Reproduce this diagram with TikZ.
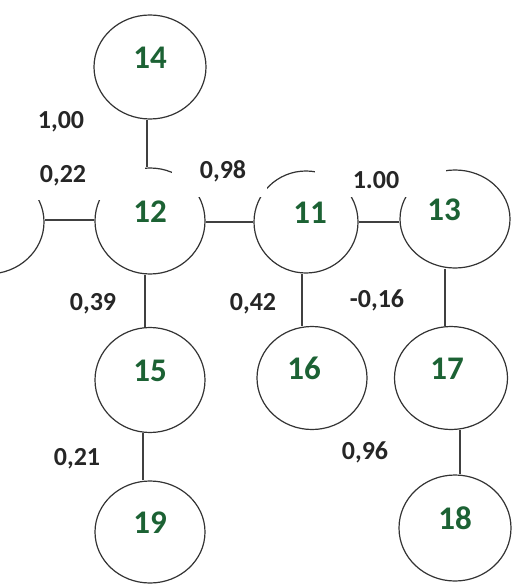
\documentclass[tikz,border=0pt]{standalone}
\usepackage{fontspec}
\setmainfont{Carlito}
\usetikzlibrary{shapes.geometric}
\definecolor{numgreen}{RGB}{28,98,52}
\begin{document}
\begin{tikzpicture}[x=1pt,y=-1pt,
  vert/.style={ellipse, draw=black!80, line width=1.2pt, minimum width=112pt, minimum height=104pt, inner sep=0pt,
    font=\fontsize{33}{33}\selectfont\bfseries, text=numgreen, text height=21pt, text depth=18pt},
  wlab/.style={font=\fontsize{26}{26}\selectfont\bfseries, text=black!85, inner sep=0pt},
  link/.style={line width=1.6pt, draw=black!75},
  mask/.style={fill=white, draw=none}]
\useasboundingbox (0,0) rectangle (512,585);
% vertices
\node[vert] (n14) at (150,67) {14};
\node[vert, minimum width=110pt, minimum height=106pt] (n12) at (150,221) {12};
\node[vert] (nL) at (-12,222) {};
\node[vert, minimum width=104pt, minimum height=102pt] (n11) at (306,222) {11\hspace*{-8pt}};
\node[vert, minimum width=110pt, minimum height=98pt] (n13) at (455,219) {\hspace*{-22pt}13};
\node[vert, minimum width=110pt, minimum height=105pt] (n15) at (150,380) {15};
\node[vert, minimum width=110pt, minimum height=103pt] (n16) at (312,378) {\hspace*{-16pt}16};
\node[vert, minimum width=113pt, minimum height=103pt] (n17) at (451,378) {\hspace*{-8pt}17};
\node[vert, minimum height=106pt] (n18) at (455,528) {18};
\node[vert, minimum width=110pt, minimum height=102pt] (n19) at (150,532) {19};
% connectors
\draw[link] ([xshift=-3pt]n14.south) -- ([xshift=-3pt]n14.south |- n12.north);
\draw[link] ([yshift=1pt]n12.west) -- ([yshift=1pt]n12.west -| nL.east);
\draw[link] (n11.west) -- (n11.west -| n12.east);
\draw[link] (n11.east) -- (n11.east -| n13.west);
\draw[link] ([xshift=-5pt]n12.south) -- ([xshift=-5pt]n12.south |- n15.north);
\draw[link] ([xshift=-7pt]n15.south) -- ([xshift=-7pt]n15.south |- n19.north);
\draw[link] ([xshift=-4pt]n11.south) -- ([xshift=-4pt]n11.south |- n16.north);
\draw[link] ([xshift=-10pt]n13.south) -- ([xshift=-10pt]n13.south |- n17.north);
\draw[link] ([xshift=9pt]n17.south) -- ([xshift=9pt]n17.south |- n18.north);
% white label backgrounds
\fill[mask] (0,148) rectangle (145,200);
\fill[mask] (172,148) rectangle (267,197);
\fill[mask] (315,148) rectangle (446,197);
% weights
\node[wlab] (w1) at (61,122) {1,00};
\node[wlab] (w2) at (63,176) {0,22};
\node[wlab] (w3) at (223,171) {0,98};
\node[wlab] (w4) at (376,180) {1.00};
\node[wlab] (w5) at (93,304) {0,39};
\node[wlab] (w6) at (253,304) {0,42};
\node[wlab] (w7) at (377,300) {-0,16};
\node[wlab] (w8) at (77,459) {0,21};
\node[wlab] (w9) at (365,452) {0,96};
\end{tikzpicture}
\end{document}
